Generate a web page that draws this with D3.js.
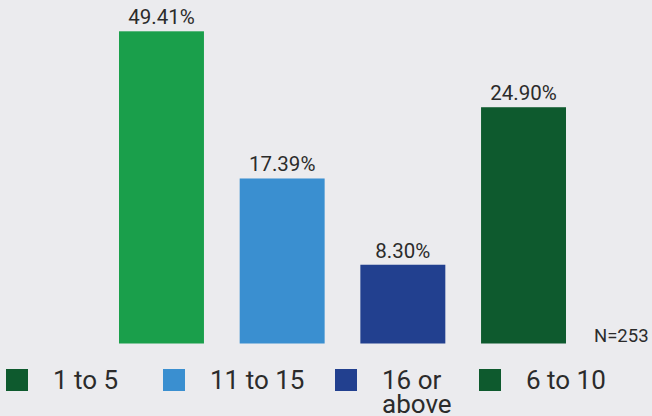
<!DOCTYPE html>
<html>
<head>
<meta charset="utf-8">
<script src="https://cdn.jsdelivr.net/npm/d3@7"></script>
<style>
  html, body { margin: 0; padding: 0; background: #ebebee; }
  svg { display: block; }
  text { font-family: Roboto, "Noto Sans", sans-serif; fill: #2b2b2b; }
</style>
</head>
<body>
<svg id="chart" width="652" height="416"></svg>
<script>
// Share of respondents by group size
const categories = ["1 to 5", "11 to 15", "16 or above", "6 to 10"];
const values = [49.41, 17.39, 8.30, 24.90];
const valueLabels = ["49.41%", "17.39%", "8.30%", "24.90%"];
const barColors = ["#1a9f4b", "#3a8fd0", "#22408f", "#0e5a2e"];
const legendColors = ["#0e5a2e", "#3a8fd0", "#22408f", "#0e5a2e"];
const legendLines = [["1 to 5"], ["11 to 15"], ["16 or", "above"], ["6 to 10"]];
const sampleNote = "N=253";

const W = 652, H = 416;
const baseY = 343.5;
const cap = 32.9; // the tallest bar is cut off at this height

const svg = d3.select("#chart");

const x = d3.scaleBand()
  .domain(categories)
  .range([119, 566])
  .paddingInner(0.296)
  .paddingOuter(0);

const y = d3.scaleLinear()
  .domain([0, 36.2])
  .range([baseY, 0]);

const bars = svg.append("g");
bars.selectAll("rect")
  .data(categories)
  .join("rect")
  .attr("x", d => x(d))
  .attr("width", x.bandwidth())
  .attr("y", (d, i) => y(Math.min(values[i], cap)))
  .attr("height", (d, i) => baseY - y(Math.min(values[i], cap)))
  .attr("fill", (d, i) => barColors[i]);

bars.selectAll("text")
  .data(categories)
  .join("text")
  .attr("x", d => x(d) + x.bandwidth() / 2)
  .attr("y", (d, i) => y(Math.min(values[i], cap)) - 7)
  .attr("text-anchor", "middle")
  .attr("font-size", 20.5)
  .text((d, i) => valueLabels[i]);

svg.append("text")
  .attr("x", 594)
  .attr("y", 342)
  .attr("font-size", 18.5)
  .text(sampleNote);

// Legend row
const legendX = [6, 163, 335, 479];
const legend = svg.append("g");
const items = legend.selectAll("g")
  .data(categories)
  .join("g")
  .attr("transform", (d, i) => `translate(${legendX[i]},369)`);

items.append("rect")
  .attr("width", 22)
  .attr("height", 22)
  .attr("fill", (d, i) => legendColors[i]);

items.append("text")
  .attr("x", 47)
  .attr("y", 20)
  .attr("font-size", 26)
  .selectAll("tspan")
  .data((d, i) => legendLines[i])
  .join("tspan")
  .attr("x", 47)
  .attr("dy", (d, j) => j === 0 ? 0 : 24)
  .text(d => d);
</script>
</body>
</html>
